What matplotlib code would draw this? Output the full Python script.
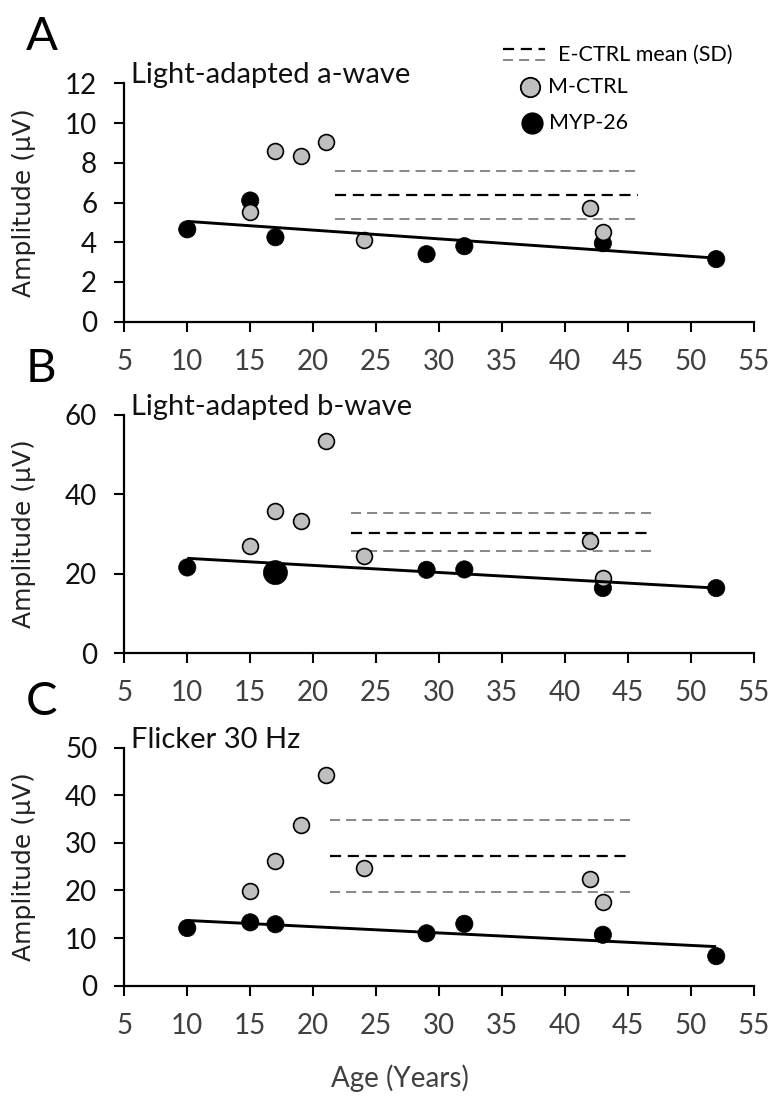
import numpy as np
import matplotlib
matplotlib.use("Agg")
import matplotlib.pyplot as plt
from matplotlib.lines import Line2D

# ages of the subjects (years)
ctrl_age = [15, 17, 19, 21, 24, 42, 43]
myp_age = [10, 15, 17, 29, 32, 43, 52]
myp_age_b = [10, 17, 29, 32, 43, 52]

# light-adapted a-wave amplitude (uV)
ctrl_a = [5.5, 8.6, 8.35, 9.05, 4.1, 5.7, 4.5]
myp_a = [4.65, 6.1, 4.25, 3.4, 3.8, 3.95, 3.15]

# light-adapted b-wave amplitude (uV)
ctrl_b = [27.0, 35.8, 33.3, 53.4, 24.5, 28.3, 18.9]
myp_b = [21.6, 20.3, 21.0, 21.1, 16.4, 16.4]

# flicker 30 Hz amplitude (uV)
ctrl_c = [19.9, 26.1, 33.8, 44.2, 24.7, 22.4, 17.6]
myp_c = [12.1, 13.3, 12.9, 11.0, 13.0, 10.7, 6.2]

# linear trend of MYP-26 (read at the line ends)
trend_age = [10, 52]
trend_a = [5.05, 3.2]
trend_b = [23.9, 16.4]
trend_c = [13.7, 8.2]

# E-CTRL mean and +/- SD lines
ectrl_mean = [6.4, 30.4, 27.2]
ectrl_hi = [7.59, 35.2, 34.9]
ectrl_lo = [5.15, 25.8, 19.7]
ectrl_from = [21.7, 23.0, 21.3]
ectrl_to = [45.8, 47.0, 45.2]

titles = ["Light-adapted a-wave", "Light-adapted b-wave", "Flicker 30 Hz"]
letters = ["A", "B", "C"]
ylims = [12, 60, 50]
ysteps = [2, 20, 10]

plt.rcParams['font.family'] = ['Lato', 'DejaVu Sans']

W, H = 771, 1096
fig = plt.figure(figsize=(W / 100, H / 100), dpi=100)

def fx(px):
    return px / W

def fy(py):
    return 1 - py / H

# axes boxes in pixels: (top, bottom)
boxes = [(83.3, 321.7), (415.0, 653.2), (747.6, 985.7)]
left_px, right_px = 124.3, 754.0

panels = [
    (ctrl_age, ctrl_a, myp_age, myp_a, trend_a),
    (ctrl_age, ctrl_b, myp_age_b, myp_b, trend_b),
    (ctrl_age, ctrl_c, myp_age, myp_c, trend_c),
]

gray_fill = '#bfbfbf'
dash_gray = '#8a8a8a'

for i, (cx, cy, mx, my, tr) in enumerate(panels):
    top, bot = boxes[i]
    ax = fig.add_axes([fx(left_px), fy(bot), fx(right_px) - fx(left_px), (bot - top) / H])

    # E-CTRL mean (SD)
    for val, col, lw in [(ectrl_hi[i], dash_gray, 1.45), (ectrl_lo[i], dash_gray, 1.45),
                         (ectrl_mean[i], 'black', 1.6)]:
        ax.plot([ectrl_from[i], ectrl_to[i]], [val, val], color=col, lw=lw,
                dashes=(5, 3), zorder=1)

    # MYP-26 points, one enlarged point in panel B
    sizes = np.full(len(mx), 155.0)
    if i == 1:
        sizes[np.array(mx) == 17] = 300.0
    ax.scatter(mx, my, s=sizes, color='black', edgecolors='black', linewidths=0.5,
               zorder=3, clip_on=False)
    # M-CTRL points
    ax.scatter(cx, cy, s=130, color=gray_fill, edgecolors='black', linewidths=1.2,
               zorder=4, clip_on=False)
    # trend line
    ax.plot(trend_age, tr, color='black', lw=2.1, zorder=5, solid_capstyle='butt')

    ax.set_xlim(5, 55)
    ax.set_ylim(0, ylims[i])
    ax.set_xticks(np.arange(5, 56, 5))
    ax.set_yticks(np.arange(0, ylims[i] + 1, ysteps[i]))
    for s in ['top', 'right']:
        ax.spines[s].set_visible(False)
    for s in ['left', 'bottom']:
        ax.spines[s].set_linewidth(1.6)
    ax.tick_params(axis='both', direction='out', length=7, width=1.5, pad=12.5,
                   labelsize=20)
    ax.tick_params(axis='x', labelcolor='#404040')
    ax.tick_params(axis='y', labelcolor='#111111')

    ax.set_ylabel('Amplitude (μV)', family='DejaVu Sans', fontsize=18, color='#222222')
    ax.yaxis.set_label_coords(-0.14, 0.5)

    ax.text(0.011, 1.0, titles[i], transform=ax.transAxes, ha='left', va='baseline',
            fontsize=21, color='#111111')

    fig.text(fx(26), fy(top - 33), letters[i], fontsize=34, ha='left', va='baseline',
             color='black')

fig.text(fx(400), fy(1078), 'Age (Years)', ha='center', va='center', fontsize=20,
         color='#404040')

# legend drawn by hand at the top right
fig.add_artist(Line2D([fx(503), fx(545)], [fy(49.3), fy(49.3)], color='black', lw=1.6,
                      dashes=(5, 3)))
fig.add_artist(Line2D([fx(503), fx(545)], [fy(60), fy(60)], color=dash_gray, lw=1.45,
                      dashes=(5, 3)))
fig.text(fx(558), fy(55), 'E-CTRL mean (SD)', ha='left', va='center', fontsize=15.5)
fig.add_artist(Line2D([fx(530)], [fy(87)], marker='o', markersize=14, color=gray_fill,
                      markeredgecolor='black', markeredgewidth=1.3, linestyle='none'))
fig.text(fx(548), fy(87), 'M-CTRL', ha='left', va='center', fontsize=15.5)
fig.add_artist(Line2D([fx(532)], [fy(123)], marker='o', markersize=15, color='black',
                      linestyle='none'))
fig.text(fx(549), fy(123), 'MYP-26', ha='left', va='center', fontsize=15.5)

fig.savefig('out.png', dpi=100)
